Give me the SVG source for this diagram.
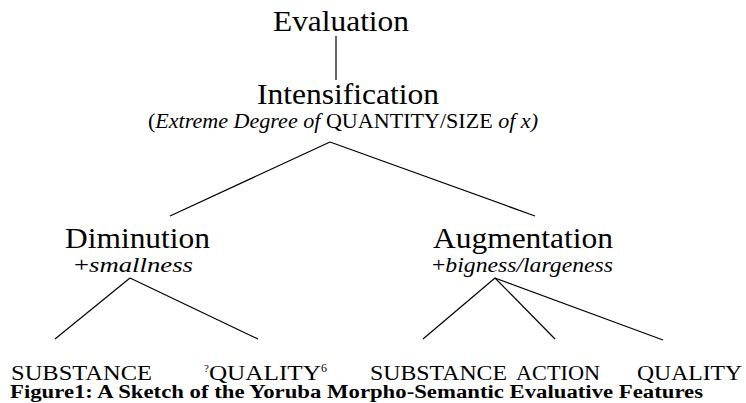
<svg xmlns="http://www.w3.org/2000/svg" width="746" height="403" viewBox="0 0 746 403">
<style>
text { font-family: "Liberation Serif", "Times New Roman", serif; fill: #000; }
.h { font-size: 29px; }
.s { font-size: 21px; }
.b { font-size: 20px; }
.cap { font-size: 18px; font-weight: bold; }
.i { font-style: italic; }
.edge { stroke: #000; stroke-width: 1.2; fill: none; }
</style>
<rect width="746" height="403" fill="#fff"/>
<g id="connectors">
<line class="edge" x1="336" y1="36" x2="336" y2="80"/>
<line class="edge" x1="330" y1="142" x2="170" y2="216"/>
<line class="edge" x1="330" y1="142" x2="535" y2="216"/>
<line class="edge" x1="130" y1="278" x2="55" y2="339"/>
<line class="edge" x1="130" y1="278" x2="258" y2="339"/>
<line class="edge" x1="495" y1="278" x2="423" y2="339"/>
<line class="edge" x1="495" y1="278" x2="555" y2="339"/>
<line class="edge" x1="495" y1="278" x2="663" y2="340"/>
</g>
<g id="evaluation">
<text class="h" x="273" y="31" textLength="136" lengthAdjust="spacingAndGlyphs">Evaluation</text>
</g>
<g id="intensification">
<text class="h" x="257" y="104" textLength="182" lengthAdjust="spacingAndGlyphs">Intensification</text>
<text class="s" x="148" y="128" textLength="390" lengthAdjust="spacingAndGlyphs">(<tspan class="i">Extreme Degree of</tspan> QUANTITY/SIZE <tspan class="i">of x)</tspan></text>
</g>
<g id="diminution">
<text class="h" x="65" y="248" textLength="145" lengthAdjust="spacingAndGlyphs">Diminution</text>
<text class="s" x="74" y="272" textLength="119" lengthAdjust="spacingAndGlyphs">+<tspan class="i">smallness</tspan></text>
</g>
<g id="augmentation">
<text class="h" x="433" y="248" textLength="180" lengthAdjust="spacingAndGlyphs">Augmentation</text>
<text class="s" x="432" y="272" textLength="181" lengthAdjust="spacingAndGlyphs">+<tspan class="i">bigness/largeness</tspan></text>
</g>
<g id="dim-substance">
<text class="b" x="11" y="380" textLength="141" lengthAdjust="spacingAndGlyphs">SUBSTANCE</text>
</g>
<g id="dim-quality">
<text class="b" x="204" y="380"><tspan font-size="11" dy="-8">?</tspan><tspan dy="8" textLength="112" lengthAdjust="spacingAndGlyphs">QUALITY</tspan><tspan font-size="12" dy="-8">6</tspan></text>
</g>
<g id="aug-substance">
<text class="b" x="370" y="380" textLength="137" lengthAdjust="spacingAndGlyphs">SUBSTANCE</text>
</g>
<g id="aug-action">
<text class="b" x="516" y="380" textLength="84" lengthAdjust="spacingAndGlyphs">ACTION</text>
</g>
<g id="aug-quality">
<text class="b" x="637" y="380" textLength="105" lengthAdjust="spacingAndGlyphs">QUALITY</text>
</g>
<g id="caption">
<text class="cap" x="10" y="398" textLength="693" lengthAdjust="spacingAndGlyphs">Figure1: A Sketch of the Yoruba Morpho-Semantic Evaluative Features</text>
</g>
</svg>
